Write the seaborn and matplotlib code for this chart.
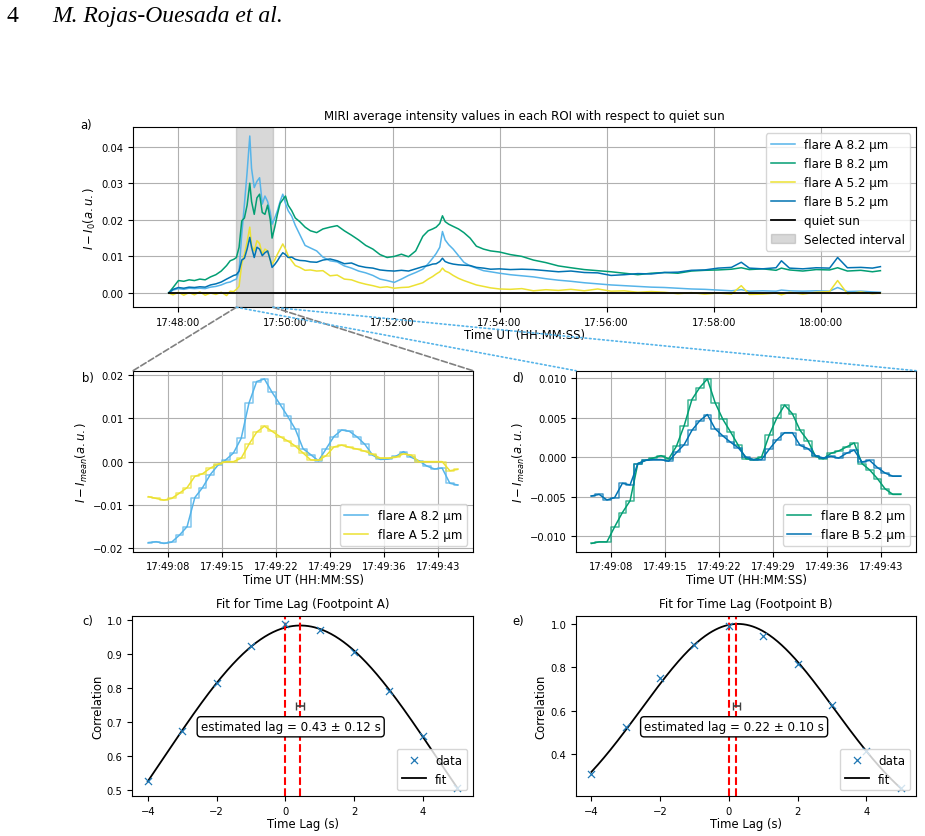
import numpy as np
import pandas as pd
import seaborn as sns
import matplotlib.pyplot as plt
import matplotlib.dates as mdates
from matplotlib.ticker import MultipleLocator
from matplotlib.patches import ConnectionPatch

# ---- data ----
# panel a: seconds after 17:48:00, values in units of 1e-3
secs_a = [-11, -6, 0, 6, 12, 18, 24, 30, 36, 42,
          48, 54, 58, 62, 65, 68, 71, 74, 77, 80,
          82, 85, 88, 91, 94, 97, 100, 103, 105, 108,
          111, 114, 117, 120, 123, 127, 131, 136, 142, 148,
          155, 162, 170, 178, 186, 194, 202, 210, 218, 226,
          234, 242, 250, 258, 266, 274, 280, 285, 289, 293,
          296, 299, 303, 308, 314, 320, 327, 334, 342, 350,
          360, 372, 385, 398, 412, 426, 440, 455, 470, 485,
          500, 515, 530, 545, 560, 575, 590, 605, 620, 631,
          640, 655, 670, 676, 685, 700, 715, 730, 739, 750,
          765, 778, 787]

flare_a_82 = [0.0, 0.8, 1.2, 1.0, 1.3, 1.2, 1.3, 1.2, 1.6, 1.8,
              2.2, 2.8, 3.0, 3.5, 3.8, 6.0, 16.0, 24.3, 33.0, 42.9,
              34.0, 28.8, 30.5, 31.5, 24.3, 26.5, 25.0, 22.0, 18.8, 20.5,
              22.5, 25.0, 27.0, 24.5, 22.5, 21.0, 18.5, 16.0, 13.0, 12.3,
              11.5, 9.8, 8.8, 8.5, 7.4, 6.8, 6.0, 5.5, 4.8, 3.8,
              3.4, 2.9, 3.8, 4.8, 5.6, 6.5, 8.0, 9.5, 10.8, 12.5,
              16.8, 14.5, 13.2, 12.0, 10.2, 8.4, 7.4, 6.8, 6.1, 5.8,
              5.4, 5.0, 4.7, 4.4, 3.9, 3.5, 3.2, 2.8, 2.5, 2.2,
              2.0, 1.8, 1.6, 1.5, 1.3, 1.1, 1.0, 0.8, 0.6, 0.9,
              0.5, 0.6, 0.5, 0.8, 0.6, 0.5, 0.6, 0.5, 1.5, 0.4,
              0.5, 0.3, 0.2]
flare_b_82 = [0.0, 1.5, 3.4, 3.2, 3.6, 3.4, 3.8, 3.6, 4.4, 5.0,
              6.0, 7.5, 8.8, 9.2, 9.7, 12.5, 19.7, 20.5, 24.0, 30.0,
              25.0, 21.5, 26.0, 27.0, 22.0, 21.5, 24.0, 20.0, 15.0, 18.0,
              21.5, 24.5, 25.5, 26.5, 24.0, 22.5, 20.5, 19.5, 18.0, 17.0,
              16.5, 17.5, 18.0, 18.4, 17.0, 15.8, 14.5, 13.0, 12.0, 10.5,
              9.7, 10.0, 10.6, 9.9, 11.5, 15.5, 17.0, 17.5, 18.0, 19.0,
              21.1, 19.5, 18.8, 18.2, 17.5, 16.5, 15.0, 12.8, 12.0, 11.5,
              11.2, 10.5, 10.0, 9.0, 8.3, 7.4, 6.9, 6.4, 6.1, 5.8,
              5.4, 5.0, 5.4, 5.6, 5.4, 6.0, 6.2, 6.3, 6.5, 6.9,
              6.4, 6.6, 6.2, 6.8, 6.3, 6.0, 6.4, 6.3, 6.9, 6.0,
              6.2, 5.8, 6.1]
flare_a_52 = [0.0, -0.5, 0.2, -0.6, 0.1, -0.5, 0.3, -0.6, 0.0, -0.4,
              0.2, -0.7, 0.5, 0.4, 1.0, 1.8, 8.0, 10.5, 14.0, 18.0,
              13.0, 11.5, 14.3, 13.5, 10.6, 12.0, 11.5, 9.0, 7.9, 9.0,
              10.6, 12.0, 13.4, 12.0, 10.2, 8.8, 7.5, 7.0, 6.2, 6.3,
              6.0, 6.1, 4.7, 4.9, 3.8, 3.6, 2.9, 2.4, 2.0, 1.5,
              1.7, 1.3, 1.5, 1.6, 2.2, 2.8, 3.8, 4.5, 5.2, 5.8,
              6.8, 6.0, 5.6, 4.8, 4.0, 3.4, 2.8, 2.2, 1.8, 1.4,
              1.1, 1.0, 1.2, 0.6, 0.9, 0.7, 1.0, 0.6, 1.1, 0.5,
              0.6, 0.2, 0.4, 0.2, -0.2, 0.1, -0.3, 0.0, -0.3, 2.0,
              -0.4, -0.3, 0.0, -0.5, 0.2, -0.3, 0.2, 0.4, 3.4, -0.2,
              0.3, -0.2, 0.0]
flare_b_52 = [0.0, 1.0, 1.5, 1.3, 1.6, 1.5, 1.7, 1.6, 2.2, 2.5,
              3.0, 3.8, 4.3, 4.8, 5.0, 6.0, 9.0, 9.5, 12.0, 15.2,
              12.5, 9.7, 12.5, 12.0, 10.2, 11.0, 11.5, 9.0, 7.0, 7.8,
              8.8, 10.0, 11.0, 10.5, 9.7, 9.8, 9.2, 8.9, 8.8, 8.5,
              8.4, 9.0, 9.3, 8.8, 8.0, 8.2, 7.4, 7.0, 6.8, 6.3,
              6.1, 6.0, 6.2, 6.0, 6.6, 7.2, 7.5, 7.9, 8.0, 8.6,
              9.5, 8.6, 8.2, 7.9, 7.7, 7.6, 7.5, 7.0, 6.8, 6.5,
              6.6, 6.4, 6.5, 6.4, 6.1, 5.8, 6.0, 5.6, 5.5, 4.8,
              5.0, 5.3, 5.2, 5.6, 5.7, 6.2, 6.3, 6.8, 7.0, 8.4,
              6.8, 6.6, 6.9, 8.8, 6.8, 6.6, 6.9, 6.8, 9.7, 6.9,
              7.0, 6.8, 7.2]

interval_start = '17:49:05'
interval_end = '17:49:46'

# panels b/d: seconds after 17:49:00, values in units of 1e-3
secs_b = [5.5, 6.5, 7.5, 8.5, 9.5, 10.5, 11.5, 12.5, 13.5, 14.5,
          15.5, 16.5, 17.5, 18.5, 19.5, 20.5, 21.5, 22.5, 23.5, 24.5,
          25.5, 26.5, 27.5, 28.5, 29.5, 30.5, 31.5, 32.5, 33.5, 34.5,
          35.5, 36.5, 37.5, 38.5, 39.5, 40.5, 41.5, 42.5, 43.5, 44.5,
          45.5]
zoom_a_82 = [-18.7, -18.5, -18.9, -18.6, -17.0, -15.0, -8.3, -6.0, -3.0, -0.8,
             0.4, 2.0, 5.4, 13.5, 18.5, 19.1, 16.0, 13.3, 10.5, 7.5,
             3.0, 1.6, 0.2, 3.0, 5.8, 7.3, 7.0, 5.7, 4.0, 1.5,
             0.5, 0.6, 1.2, 2.3, 1.0, 0.2, -1.0, -1.7, -1.5, -5.0,
             -5.4]
zoom_a_52 = [-8.1, -8.5, -8.9, -8.5, -7.3, -6.0, -3.4, -2.8, -1.5, -0.6,
             0.0, 0.0, 0.8, 4.0, 6.8, 8.2, 7.0, 5.8, 4.8, 3.6,
             2.0, 0.4, 0.3, 1.4, 3.4, 3.8, 3.3, 2.9, 2.4, 1.7,
             0.8, 0.8, 1.0, 1.8, 1.5, 0.0, 0.0, 0.0, 0.0, -2.1,
             -1.8]
zoom_b_82 = [-10.9, -10.7, -10.7, -8.8, -7.0, -5.5, -0.8, -0.4, -0.1, 0.2,
             -0.2, 1.4, 4.0, 7.3, 8.8, 9.9, 6.9, 4.8, 3.2, 1.5,
             -0.2, -0.3, 0.0, 2.8, 5.0, 6.6, 5.5, 3.4, 2.1, 0.1,
             -0.2, 0.5, 0.8, 1.3, 1.8, -0.8, -1.6, -2.7, -4.0, -4.7,
             -4.7]
zoom_b_52 = [-4.9, -4.7, -5.4, -5.1, -3.3, -3.5, -0.8, -0.4, -0.3, -0.3,
             -0.5, 0.6, 1.6, 3.4, 4.6, 5.4, 3.6, 2.7, 1.9, 1.2,
             0.0, -0.3, -0.3, 1.0, 2.2, 3.1, 3.1, 1.5, 1.1, 0.2,
             -0.1, 0.1, -0.1, 0.5, 0.9, -0.6, -0.4, -1.3, -2.0, -2.4,
             -2.4]

# panels c/e: correlation vs time lag
lags = [-4, -3, -2, -1, 0, 1, 2, 3, 4, 5]
corr_a = [0.526, 0.673, 0.815, 0.924, 0.989, 0.971, 0.905, 0.793, 0.658, 0.507]
corr_b = [0.305, 0.526, 0.748, 0.904, 0.992, 0.942, 0.817, 0.626, 0.412, 0.244]
lag_a, err_a = 0.43, 0.12
lag_b, err_b = 0.22, 0.10

pal = sns.color_palette('colorblind')
c_a82, c_b82, c_a52, c_b52 = pal[9], pal[2], pal[8], pal[0]

plt.rcParams['font.size'] = 8.4
plt.rcParams['xtick.labelsize'] = 7.2
plt.rcParams['ytick.labelsize'] = 7.2
plt.rcParams['legend.fontsize'] = 8.6
plt.rcParams['axes.labelpad'] = 2.0

day = '2024-01-01 '
t_a = pd.Timestamp(day + '17:48:00') + pd.to_timedelta(secs_a, unit='s')
t_b = pd.Timestamp(day + '17:49:00') + pd.to_timedelta(secs_b, unit='s')
scale = 1e-3

fig = plt.figure(figsize=(9.25, 8.37), dpi=100)

fig.text(0.007, 0.993, '4', family='Liberation Serif', fontsize=17, va='top')
fig.text(0.057, 0.993, 'M. Rojas-Ouesada et al.', family='Liberation Serif',
         style='italic', fontsize=17, va='top')

# ---- a) overview ----
ax_a = fig.add_axes([0.1438, 0.6317, 0.8465, 0.2151])
for vals, col, lab in [(flare_a_82, c_a82, 'flare A 8.2 µm'),
                       (flare_b_82, c_b82, 'flare B 8.2 µm'),
                       (flare_a_52, c_a52, 'flare A 5.2 µm'),
                       (flare_b_52, c_b52, 'flare B 5.2 µm')]:
    sns.lineplot(x=t_a, y=np.array(vals) * scale, color=col, lw=1.1,
                 label=lab, ax=ax_a)
sns.lineplot(x=[t_a[0], t_a[-1]], y=[0.0, 0.0], color='black', lw=1.3,
             label='quiet sun', ax=ax_a)
x_s = pd.Timestamp(day + interval_start)
x_e = pd.Timestamp(day + interval_end)
ax_a.axvspan(x_s, x_e, color='gray', alpha=0.3, label='Selected interval')
ax_a.set_ylim(-0.0039, 0.0453)
ax_a.yaxis.set_major_locator(MultipleLocator(0.01))
ax_a.grid(True)
ax_a.xaxis.set_major_locator(mdates.MinuteLocator(byminute=range(0, 60, 2)))
ax_a.xaxis.set_major_formatter(mdates.DateFormatter('%H:%M:%S'))
ax_a.set_title('MIRI average intensity values in each ROI with respect to quiet sun',
               fontsize=8.6)
ax_a.set_xlabel('Time UT (HH:MM:SS)', labelpad=1)
ax_a.set_ylabel(r'$I - I_0 (a.u.)$')
ax_a.legend(loc='upper right')


def zoom_panel(ax, series, ystep):
    for vals, col, lab in series:
        y = np.array(vals) * scale
        sns.lineplot(x=t_b, y=y, color=col, lw=1.1, label=lab, ax=ax)
        sns.lineplot(x=t_b, y=y, color=col, lw=1.1, alpha=0.75,
                     drawstyle='steps-mid', ax=ax)
    ax.grid(True)
    ax.yaxis.set_major_locator(MultipleLocator(ystep))
    ax.xaxis.set_major_locator(mdates.SecondLocator(bysecond=[8, 15, 22, 29, 36, 43]))
    ax.xaxis.set_major_formatter(mdates.DateFormatter('%H:%M:%S'))
    ax.set_xlabel('Time UT (HH:MM:SS)', labelpad=1)
    ax.set_ylabel(r'$I - I_{mean} (a.u.)$')
    ax.legend(loc='lower right')


ax_b = fig.add_axes([0.1438, 0.3397, 0.3676, 0.2162])
zoom_panel(ax_b, [(zoom_a_82, c_a82, 'flare A 8.2 µm'),
                  (zoom_a_52, c_a52, 'flare A 5.2 µm')], 0.01)
ax_d = fig.add_axes([0.6227, 0.3397, 0.3676, 0.2162])
zoom_panel(ax_d, [(zoom_b_82, c_b82, 'flare B 8.2 µm'),
                  (zoom_b_52, c_b52, 'flare B 5.2 µm')], 0.005)


def lag_panel(ax, corr, lag, err, title, ystep):
    coeffs = np.polyfit(lags, np.log(corr), 2)
    xf = np.linspace(lags[0], lags[-1], 300)
    yf = np.exp(np.polyval(coeffs, xf))
    sns.scatterplot(x=lags, y=corr, marker='x', color='#1f77b4', s=26,
                    linewidth=0.9, label='data', ax=ax, zorder=3)
    sns.lineplot(x=xf, y=yf, color='black', lw=1.3, label='fit', ax=ax)
    ax.axvline(0, color='red', ls='--', lw=1.5)
    ax.axvline(lag, color='red', ls='--', lw=1.5)
    ymid = np.mean(ax.get_ylim())
    ax.errorbar(lag, ymid, xerr=err, fmt='none', ecolor='#404040',
                capsize=3, lw=1.2)
    ax.text(0.465, 0.385, f'estimated lag = {lag:.2f} ± {err:.2f} s',
            transform=ax.transAxes, ha='center', va='center', fontsize=8.6,
            bbox=dict(boxstyle='round', fc='white', ec='black'))
    ax.yaxis.set_major_locator(MultipleLocator(ystep))
    ax.xaxis.set_major_locator(MultipleLocator(2))
    ax.set_title(title, fontsize=8.6)
    ax.set_xlabel('Time Lag (s)', labelpad=1)
    ax.set_ylabel('Correlation')
    ax.legend(loc='lower right')


ax_c = fig.add_axes([0.143, 0.0474, 0.3683, 0.2158])
lag_panel(ax_c, corr_a, lag_a, err_a, 'Fit for Time Lag (Footpoint A)', 0.1)
ax_e = fig.add_axes([0.6227, 0.0474, 0.3676, 0.2158])
lag_panel(ax_e, corr_b, lag_b, err_b, 'Fit for Time Lag (Footpoint B)', 0.2)

# zoom connectors
y0 = ax_a.get_ylim()[0]
xs, xe = mdates.date2num(x_s), mdates.date2num(x_e)
for xa, ax_t, xb, col, ls in [(xs, ax_b, 0, 'gray', '--'), (xe, ax_b, 1, 'gray', '--'),
                              (xs, ax_d, 0, '#56B4E9', ':'), (xe, ax_d, 1, '#56B4E9', ':')]:
    con = ConnectionPatch(xyA=(xa, y0), coordsA=ax_a.transData,
                          xyB=(xb, 1), coordsB=ax_t.transAxes,
                          color=col, ls=ls, lw=1.2)
    fig.add_artist(con)

for lab, x, y in [('a)', 86, 125), ('b)', 88, 379), ('d)', 518, 379),
                  ('c)', 88, 622), ('e)', 518, 622)]:
    fig.text(x / 925, 1 - y / 837, lab, ha='center', va='center')

fig.savefig('out.png', dpi=100)
